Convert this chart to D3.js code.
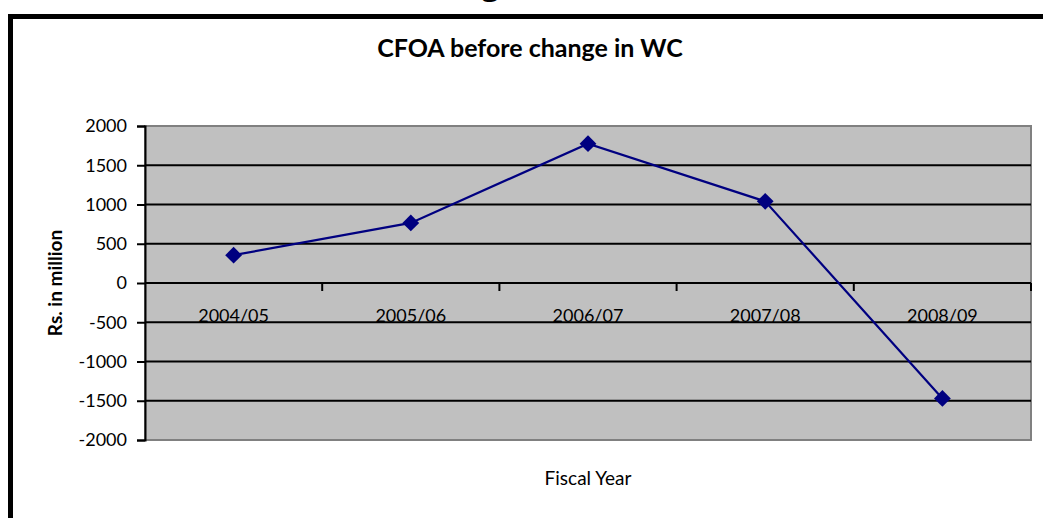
<!DOCTYPE html>
<html>
<head>
<meta charset="utf-8">
<script src="https://cdn.jsdelivr.net/npm/d3@7"></script>
<style>
  body { margin: 0; background: #fff; }
  svg { display: block; }
  .tick text { font-family: Lato, "Open Sans", sans-serif; }
</style>
</head>
<body>
<div id="graph_draw"></div>
<script>
// data
var years = ["2004/05", "2005/06", "2006/07", "2007/08", "2008/09"];
var cfoa = [355, 765, 1775, 1040, -1470];
var yTicks = [-2000, -1500, -1000, -500, 0, 500, 1000, 1500, 2000];

var W = 1043, H = 518;
var margin = {top: 126, right: 12, bottom: 78, left: 145},
    width = W - margin.left - margin.right,
    height = 440 - margin.top;

var svg = d3.select("#graph_draw").append("svg")
    .attr("width", W)
    .attr("height", H);

// page heading cut off at the top
svg.append("text")
    .attr("x", 490).attr("y", -6)
    .attr("text-anchor", "middle")
    .style("font-family", "Liberation Serif")
    .style("font-weight", "bold")
    .style("font-size", "36px")
    .text("g");

// outer frame of the chart object
svg.append("rect")
    .attr("x", 10.5).attr("y", 16.5)
    .attr("width", 1100).attr("height", 600)
    .attr("fill", "none")
    .attr("stroke", "#000")
    .attr("stroke-width", 5);

// title
svg.append("text")
    .attr("x", 530).attr("y", 57)
    .attr("text-anchor", "middle")
    .style("font-family", "Lato, sans-serif")
    .style("font-weight", "bold")
    .style("font-size", "25px")
    .text("CFOA before change in WC");

var g = svg.append("g")
    .attr("transform", "translate(" + margin.left + "," + margin.top + ")");

var x = d3.scaleBand().domain(years).range([0, width]);
var y = d3.scaleLinear().domain([-2000, 2000]).range([height, 0]);

// plot area
g.append("rect")
    .attr("width", width).attr("height", height)
    .attr("fill", "#c0c0c0")
    .attr("stroke", "#808080")
    .attr("stroke-width", 2);

// gridlines
g.selectAll(".grid")
    .data(yTicks.filter(function(d) { return d > -2000 && d < 2000; }))
    .enter().append("line")
    .attr("x1", 0).attr("x2", width)
    .attr("y1", function(d) { return y(d); })
    .attr("y2", function(d) { return y(d); })
    .attr("stroke", "#000")
    .attr("stroke-width", 2);

// y axis
var yAxis = g.append("g")
    .call(d3.axisLeft(y).tickValues(yTicks).tickSize(8).tickPadding(10)
        .tickFormat(function(d) { return String(d); }));
yAxis.select(".domain").attr("stroke-width", 2);
yAxis.selectAll(".tick line").attr("stroke-width", 2);
yAxis.selectAll(".tick text").style("font-size", "18px").attr("fill", "#000");

// category axis at zero
var xAxis = g.append("g")
    .attr("transform", "translate(0," + y(0) + ")")
    .call(d3.axisBottom(x).tickSize(0).tickPadding(26));
xAxis.select(".domain").remove();
xAxis.selectAll(".tick text").style("font-size", "18px").attr("fill", "#000");

// tick marks between categories
g.selectAll(".cattick")
    .data(years)
    .enter().append("line")
    .attr("x1", function(d) { return x(d) + x.bandwidth(); })
    .attr("x2", function(d) { return x(d) + x.bandwidth(); })
    .attr("y1", y(0)).attr("y2", y(0) + 8)
    .attr("stroke", "#000")
    .attr("stroke-width", 2);

// line
var valueline = d3.line()
    .x(function(d, i) { return x(years[i]) + x.bandwidth() / 2; })
    .y(function(d) { return y(d); });

g.append("path")
    .datum(cfoa)
    .attr("fill", "none")
    .attr("stroke", "#000080")
    .attr("stroke-width", 2.2)
    .attr("d", valueline);

g.selectAll(".pt")
    .data(cfoa)
    .enter().append("path")
    .attr("d", d3.symbol().type(d3.symbolDiamond2).size(180))
    .attr("transform", function(d, i) {
        return "translate(" + (x(years[i]) + x.bandwidth() / 2) + "," + y(d) + ")";
    })
    .attr("fill", "#000080");

// axis titles
svg.append("text")
    .attr("transform", "translate(62,283) rotate(-90)")
    .attr("text-anchor", "middle")
    .style("font-family", "Lato, sans-serif")
    .style("font-weight", "bold")
    .style("font-size", "19px")
    .text("Rs. in million");

svg.append("text")
    .attr("x", 588).attr("y", 485)
    .attr("text-anchor", "middle")
    .style("font-family", "Lato, sans-serif")
    .style("font-size", "19px")
    .text("Fiscal Year");
</script>
</body>
</html>
